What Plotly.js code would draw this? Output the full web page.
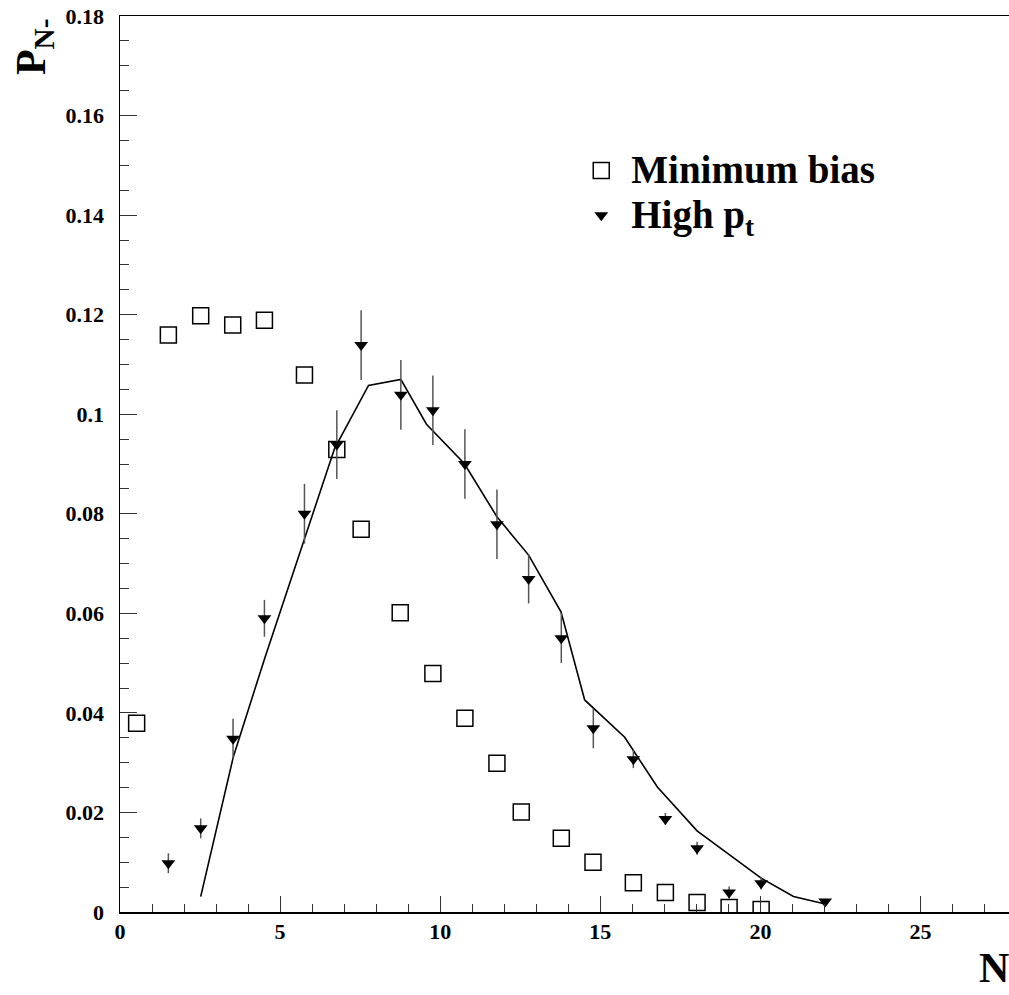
<!DOCTYPE html>
<html>
<head>
<meta charset="utf-8">
<script src="https://cdn.plot.ly/plotly-3.0.1.min.js"></script>
<style>html,body{margin:0;padding:0;background:#fff;}#chart{width:1009px;height:995px;}</style>
</head>
<body>
<div id="chart"></div>
<script>
// Minimum bias (open squares)
const minBiasX = [0.52, 1.51, 2.52, 3.52, 4.51, 5.76, 6.77, 7.53, 8.75, 9.77, 10.77, 11.77, 12.53, 13.78, 14.77, 16.03, 17.03, 18.02, 19.02, 20.02];
const minBiasY = [0.0379, 0.1159, 0.1198, 0.1179, 0.1189, 0.1079, 0.0929, 0.0769, 0.0601, 0.0479, 0.0389, 0.0299, 0.0201, 0.0148, 0.0100, 0.0059, 0.0039, 0.0019, 0.0009, 0.0005];

// High pt (filled down-triangles with errors)
const highPtX = [1.51, 2.52, 3.53, 4.51, 5.76, 6.77, 7.53, 8.77, 9.77, 10.77, 11.77, 12.76, 13.78, 14.78, 16.03, 17.03, 18.02, 19.02, 20.02, 22.02];
const highPtY = [0.0098, 0.0168, 0.0348, 0.0590, 0.0800, 0.0939, 0.1139, 0.1039, 0.1008, 0.0900, 0.0779, 0.0669, 0.0550, 0.0369, 0.0307, 0.0187, 0.0128, 0.0039, 0.0058, 0.0021];
const highPtErr = [0.0020, 0.0020, 0.0040, 0.0037, 0.0060, 0.0069, 0.0070, 0.0070, 0.0070, 0.0070, 0.0070, 0.0049, 0.0050, 0.0040, 0.0018, 0.0012, 0.0013, 0.0012, 0.0013, 0.0000];

// Model curve (solid line)
const curveX = [2.52, 3.54, 4.53, 5.71, 6.70, 7.76, 8.77, 9.57, 10.75, 11.77, 12.76, 13.77, 14.51, 15.76, 16.78, 18.02, 19.00, 20.02, 21.03, 22.02];
const curveY = [0.0031, 0.0312, 0.0512, 0.0742, 0.0931, 0.1058, 0.1070, 0.0980, 0.0901, 0.0794, 0.0717, 0.0603, 0.0426, 0.0351, 0.0251, 0.0163, 0.0117, 0.0068, 0.0031, 0.0016];

// Ticks
const xTickVals = [0, 5, 10, 15, 20, 25];
const xTickText = ['0', '5', '10', '15', '20', '25'];
const yTickVals = [0, 0.02, 0.04, 0.06, 0.08, 0.1, 0.12, 0.14, 0.16, 0.18];
const yTickText = ['0', '0.02', '0.04', '0.06', '0.08', '0.1', '0.12', '0.14', '0.16', '0.18'];

const legendNames = ['Minimum bias', 'High p<sub>t</sub>'];

const SERIF = '"Liberation Serif", "Times New Roman", serif';

const traces = [
  {
    x: curveX, y: curveY, type: 'scatter', mode: 'lines',
    line: {color: '#000', width: 1.6}, showlegend: false, hoverinfo: 'skip'
  },
  {
    x: minBiasX, y: minBiasY, type: 'scatter', mode: 'markers',
    name: '<span style="font-size:39px">' + legendNames[0] + '</span>',
    marker: {symbol: 'square-open', size: 16, color: '#000', line: {color: '#000', width: 1.5}}
  },
  {
    x: highPtX, y: highPtY, type: 'scatter', mode: 'markers',
    name: '<span style="font-size:39px">' + legendNames[1] + '</span>',
    marker: {symbol: 'triangle-down', size: 12, color: '#000'},
    error_y: {type: 'data', array: highPtErr, visible: true, color: '#555', thickness: 1.5, width: 0}
  }
];

const layout = {
  width: 1009, height: 995,
  margin: {l: 120, r: 0, t: 16, b: 83},
  paper_bgcolor: '#fff', plot_bgcolor: '#fff',
  font: {family: SERIF, color: '#000'},
  showlegend: true,
  legend: {
    x: 0.5076, y: 0.858, xanchor: 'left', yanchor: 'top',
    bgcolor: 'rgba(0,0,0,0)', borderwidth: 0,
    font: {family: SERIF, size: 32, weight: 'bold', color: '#000'},
    itemwidth: 50, itemsizing: 'trace', tracegroupgap: 0
  },
  xaxis: {
    range: [0, 27.76], tickmode: 'array', tickvals: xTickVals, ticktext: xTickText,
    ticks: 'inside', ticklen: 16, tickwidth: 1, tickcolor: '#333',
    minor: {tickmode: 'linear', tick0: 0, dtick: 1, ticks: 'inside', ticklen: 8, tickwidth: 1, tickcolor: '#333', showgrid: false},
    showline: true, linecolor: '#000', linewidth: 1.5, mirror: true,
    showgrid: false, zeroline: false,
    tickfont: {family: SERIF, size: 22, weight: 'bold', color: '#000'},
    ticklabelstandoff: -1
  },
  yaxis: {
    range: [0, 0.18], tickmode: 'array', tickvals: yTickVals, ticktext: yTickText,
    ticks: 'inside', ticklen: 17, tickwidth: 1, tickcolor: '#333',
    minor: {tickmode: 'linear', tick0: 0, dtick: 0.005, ticks: 'inside', ticklen: 9, tickwidth: 1, tickcolor: '#333', showgrid: false},
    showline: true, linecolor: '#000', linewidth: 1.5,
    showgrid: false, zeroline: false,
    tickfont: {family: SERIF, size: 22, weight: 'bold', color: '#000'},
    ticklabelstandoff: 10
  },
  annotations: [
    {
      text: 'P<sub>N-</sub>', xref: 'paper', yref: 'paper', x: -0.096, y: 0.966,
      xanchor: 'center', yanchor: 'middle', textangle: -90, showarrow: false,
      font: {family: SERIF, size: 42, weight: 'bold', color: '#000'}
    },
    {
      text: 'N', xref: 'paper', yref: 'paper', x: 0.983, y: -0.0625,
      xanchor: 'center', yanchor: 'middle', showarrow: false,
      font: {family: SERIF, size: 42, weight: 'bold', color: '#000'}
    }
  ]
};

Plotly.newPlot('chart', traces, layout, {displayModeBar: false, staticPlot: true});
</script>
</body>
</html>
